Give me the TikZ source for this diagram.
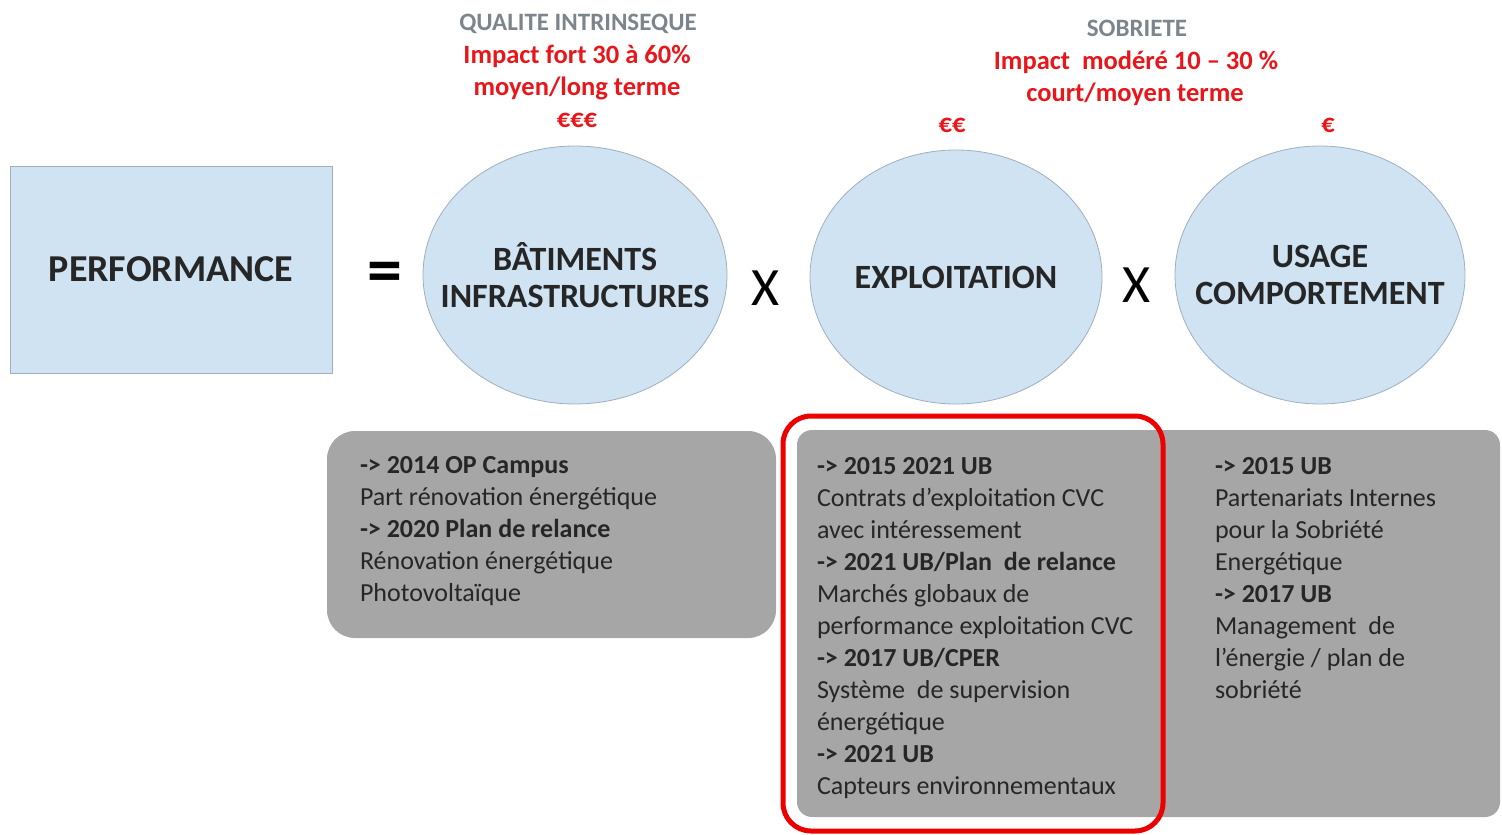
\documentclass[tikz,border=0pt]{standalone}
\usepackage{fontspec}
\setmainfont{Carlito}
\usepackage{tikz}
\usetikzlibrary{shapes.geometric}

\definecolor{lightblue}{RGB}{207,227,242}
\definecolor{blueedge}{RGB}{160,175,190}
\definecolor{boxgray}{RGB}{166,166,166}
\definecolor{textdark}{RGB}{38,38,38}
\definecolor{headgray}{RGB}{125,133,140}
\definecolor{impactred}{RGB}{232,22,26}
\definecolor{framered}{RGB}{236,0,0}

\begin{document}
\begin{tikzpicture}[x=1pt, y=-1pt, outer sep=0pt]

\tikzstyle{factor}=[draw=blueedge, fill=lightblue, ellipse, line width=0.8pt, inner sep=0pt]
\tikzstyle{title}=[inner sep=0pt, align=center, text=textdark, font=\fontsize{34}{37}\selectfont\bfseries]
\tikzstyle{impact}=[anchor=base, inner sep=0pt, text=impactred, font=\fontsize{26.5}{32}\selectfont\bfseries]
\tikzstyle{theme}=[anchor=base, inner sep=0pt, text=headgray, font=\fontsize{25}{32}\selectfont\bfseries]
\tikzstyle{operator}=[inner sep=0pt, text=black, font=\fontsize{54}{54}\selectfont]
\tikzstyle{itemline}=[anchor=base west, inner sep=0pt, text=textdark, font=\fontsize{26}{32}\selectfont]

\useasboundingbox (0,0) rectangle (1502,835);

% panels under the factors
\fill[boxgray, rounded corners=28pt] (327,431) rectangle (776,638);
\fill[boxgray, rounded corners=15pt] (797,430) rectangle (1500,817);
\draw[framered, line width=5pt, rounded corners=28pt] (783,416) rectangle (1163,831);

% equation
\node[draw=blueedge, fill=lightblue, line width=1pt, minimum width=322pt, minimum height=207pt, text=textdark, font=\fontsize{38}{40}\selectfont\bfseries] (perf) at (171,269.5) {PERFORMANCE};
\node[operator, font=\fontsize{70}{70}\selectfont\bfseries] (eq) at (385,278) {=};
\node[factor, minimum width=304pt, minimum height=258pt] (bati) at (575,275) {};
\node[title] (batititle) at (bati) {BÂTIMENTS\\INFRASTRUCTURES};
\node[operator] (times1) at (766,288) {X};
\node[factor, minimum width=292pt, minimum height=254pt] (expl) at (956,277) {};
\node[title] (expltitle) at (expl) {EXPLOITATION};
\node[operator] (times2) at (1137,285) {X};
\node[factor, minimum width=290pt, minimum height=258pt] (usage) at (1320,275) {};
\node[title] (usagetitle) at (usage) {USAGE\\COMPORTEMENT};

% headings
\node[theme] (qual) at (578,30) {QUALITE INTRINSEQUE};
\node[impact] (qual1) at (577,63) {Impact fort 30 à 60\%};
\node[impact] (qual2) at (577,95) {moyen/long terme};
\node[impact] (cost1) at (577,127) {€€€};
\node[theme] (sobr) at (1137,36) {SOBRIETE};
\node[impact] (sobr1) at (1136,69) {Impact~~modéré 10 – 30~\%};
\node[impact] (sobr2) at (1135,101) {court/moyen terme};
\node[impact] (cost2) at (952,132) {€€};
\node[impact] (cost3) at (1328,132) {€};

% actions
\foreach \txt [count=\i from 0] in {{\bfseries -> 2014 OP Campus}, Part rénovation énergétique, {\bfseries -> 2020 Plan de relance}, Rénovation énergétique, Photovoltaïque}
  \node[itemline] (bati\i) at (360,473+32*\i) {\txt};
\foreach \txt [count=\i from 0] in {{\bfseries -> 2015 2021 UB}, Contrats d’exploitation CVC, avec intéressement, {\bfseries -> 2021 UB/Plan~~de relance}, Marchés globaux de, performance exploitation CVC, {\bfseries -> 2017 UB/CPER}, Système~~de supervision, énergétique, {\bfseries -> 2021 UB}, Capteurs environnementaux}
  \node[itemline] (expl\i) at (817,474+32*\i) {\txt};
\foreach \txt [count=\i from 0] in {{\bfseries -> 2015 UB}, Partenariats Internes, pour la Sobriété, Energétique, {\bfseries -> 2017 UB}, Management~~de, l’énergie / plan de, sobriété}
  \node[itemline] (usage\i) at (1215,474+32*\i) {\txt};

\end{tikzpicture}
\end{document}
